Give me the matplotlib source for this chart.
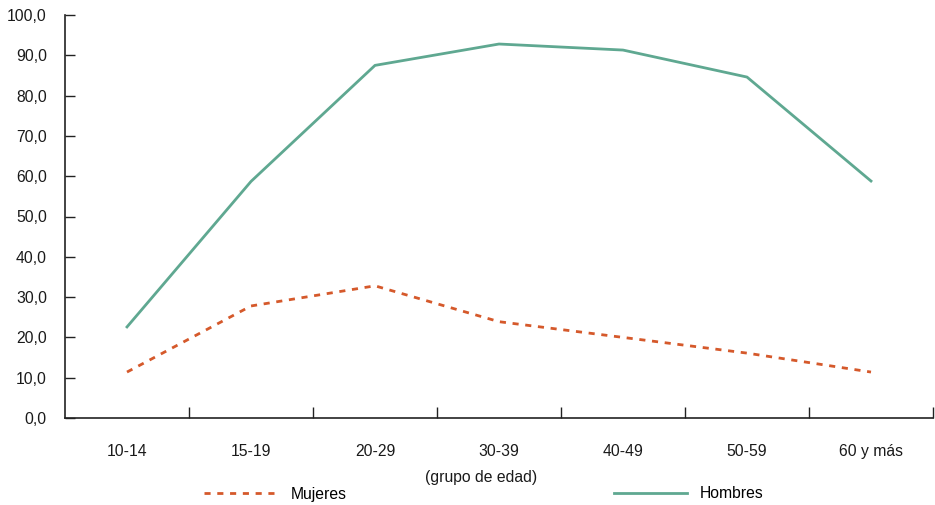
import matplotlib

matplotlib.use("Agg")
import matplotlib.pyplot as plt
import numpy as np

# values
age_groups = ["10-14", "15-19", "20-29", "30-39", "40-49", "50-59", "60 y más"]
mujeres = [11.4, 27.8, 32.8, 23.9, 20.0, 16.1, 11.4]
hombres = [22.6, 58.7, 87.5, 92.8, 91.3, 84.6, 58.8]
y_ticks = [0, 10, 20, 30, 40, 50, 60, 70, 80, 90, 100]

GREEN = "#5fa891"
ORANGE = "#d5592b"
TEXT = "#1a1a1a"

plt.rcParams["font.family"] = ["Liberation Sans", "DejaVu Sans"]
plt.rcParams["font.size"] = 11.3

fig = plt.figure(figsize=(9.35, 5.05), dpi=100)
ax = fig.add_axes([65 / 935, 1 - 418 / 505, 868 / 935, 403 / 505])

x = np.arange(len(age_groups))
(line_m,) = ax.plot(x, mujeres, color=ORANGE, lw=2.0, label="Mujeres")
line_m.set_dashes([2.2, 2.4])
ax.plot(x, hombres, color=GREEN, lw=2.0, label="Hombres")

ax.set_xlim(-0.5, len(age_groups) - 0.5)
ax.set_ylim(0, 100)

ax.set_yticks(y_ticks)
ax.set_yticklabels([f"{v:.1f}".replace(".", ",") for v in y_ticks], color=TEXT)
ax.tick_params(axis="y", direction="in", length=7, width=1, pad=13, colors="#222222", labelcolor=TEXT)

# category labels at the centres, tick marks on the boundaries
ax.set_xticks(x)
ax.set_xticklabels(age_groups, color=TEXT)
ax.tick_params(axis="x", which="major", length=0, pad=19)
ax.set_xticks(np.arange(0.5, len(age_groups), 1.0), minor=True)
ax.tick_params(axis="x", which="minor", direction="in", length=8, width=1, colors="#222222")

ax.set_xlabel("(grupo de edad)", color=TEXT)
ax.xaxis.set_label_coords((481 - 65) / 868, -0.13)

for side in ("top", "right"):
    ax.spines[side].set_visible(False)
for side in ("left", "bottom"):
    ax.spines[side].set_color("#222222")
    ax.spines[side].set_linewidth(1.2)

fig.legend(
    loc="center",
    bbox_to_anchor=(484 / 935, 1 - 494 / 505),
    ncol=2,
    frameon=False,
    handlelength=4.7,
    handletextpad=0.8,
    columnspacing=17.0,
    fontsize=11.3,
)

fig.savefig("out.png", dpi=100)
